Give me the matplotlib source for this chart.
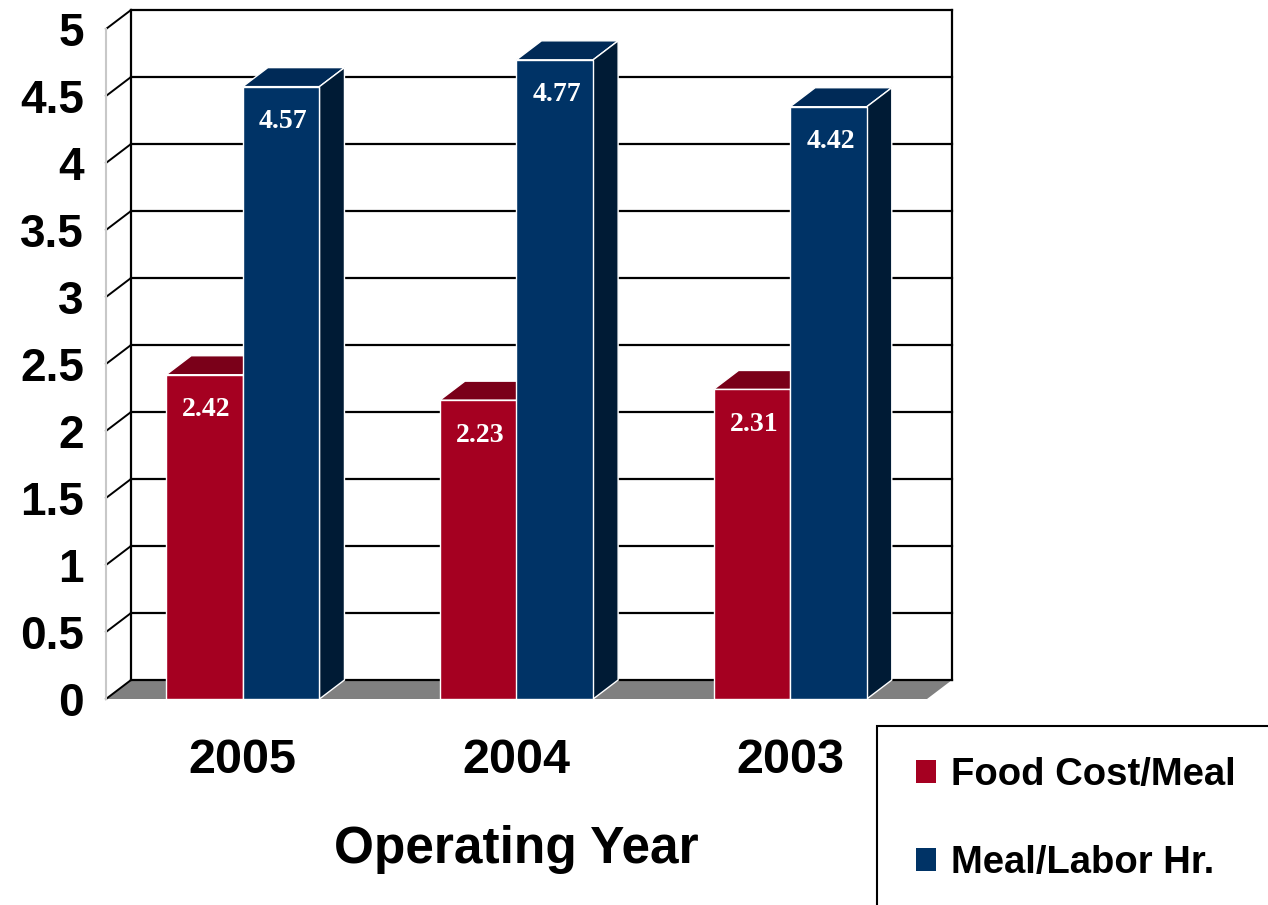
import matplotlib
matplotlib.use("Agg")
import matplotlib.pyplot as plt
from matplotlib.patches import Polygon, Rectangle, Patch

# Data
years = ["2005", "2004", "2003"]
series_names = ["Food Cost/Meal", "Meal/Labor Hr."]
food_cost = [2.42, 2.23, 2.31]
meals_per_hour = [4.57, 4.77, 4.42]
y_ticks = [0, 0.5, 1, 1.5, 2, 2.5, 3, 3.5, 4, 4.5, 5]
y_tick_labels = ["0", "0.5", "1", "1.5", "2", "2.5", "3", "3.5", "4", "4.5", "5"]

# Styling
front_colors = ["#A50021", "#003366"]
top_colors = ["#7A0019", "#002A57"]
side_colors = ["#5A0012", "#001B35"]
floor_color = "#808080"
sans = "Liberation Sans"
serif = "Liberation Serif"

W, H, DPI = 1268, 905, 100
fig = plt.figure(figsize=(W / DPI, H / DPI), dpi=DPI)
fig.patch.set_facecolor("white")

# Front plane of the 3D box, in pixels
left_px, right_px, base_px, top_px = 106, 927, 699, 29
ax = fig.add_axes([left_px / W, 1 - base_px / H,
                   (right_px - left_px) / W, (base_px - top_px) / H])
ax.set_xlim(0, 3)
ax.set_ylim(0, 5)
ax.patch.set_visible(False)
for s in ax.spines.values():
    s.set_visible(False)

# depth offset of the 3D box in data units
ddx = 25 / ((right_px - left_px) / 3)
ddy = 19 / ((base_px - top_px) / 5)

# floor
ax.add_patch(Polygon([(0, 0), (3, 0), (3 + ddx, ddy), (ddx, ddy)],
                     closed=True, facecolor=floor_color, edgecolor="none",
                     zorder=1, clip_on=False))

# back wall frame and gridlines
wall_kw = dict(color="black", lw=1.6, zorder=2, clip_on=False,
               solid_capstyle="projecting")
for v in y_ticks:
    ax.plot([ddx, 3 + ddx], [v + ddy, v + ddy], **wall_kw)
    ax.plot([0, ddx], [v, v + ddy], color="black", lw=1.4, zorder=2, clip_on=False)
ax.plot([ddx, ddx], [ddy, 5 + ddy], **wall_kw)
ax.plot([3 + ddx, 3 + ddx], [ddy, 5 + ddy], **wall_kw)
# front value axis
ax.plot([0, 0], [0, 5], color="#C8C8C8", lw=1.5, zorder=2, clip_on=False)

# bars
bar_w = 0.28
z = 3
for i in range(len(years)):
    for k, vals in enumerate([food_cost, meals_per_hour]):
        h = vals[i]
        x0 = i + 0.5 - bar_w + k * bar_w
        x1 = x0 + bar_w
        ax.bar(x0, h, width=bar_w, align="edge", color=front_colors[k],
               edgecolor="white", linewidth=1.0, zorder=z)
        ax.add_patch(Polygon([(x0, h), (x1, h), (x1 + ddx, h + ddy), (x0 + ddx, h + ddy)],
                             closed=True, facecolor=top_colors[k], edgecolor="white",
                             linewidth=1.0, zorder=z - 0.1, clip_on=False))
        ax.add_patch(Polygon([(x1, 0), (x1 + ddx, ddy), (x1 + ddx, h + ddy), (x1, h)],
                             closed=True, facecolor=side_colors[k], edgecolor="white",
                             linewidth=1.0, zorder=z - 0.1, clip_on=False))
        ax.annotate(f"{h:.2f}", xy=(x0 + bar_w / 2, h), xytext=(2, -35),
                    textcoords="offset pixels", ha="center", va="center",
                    color="white", fontsize=20, fontweight="bold",
                    family=serif, zorder=z + 0.5)
        z += 1

# axes text
ax.set_yticks(y_ticks)
ax.set_yticklabels(y_tick_labels)
ax.set_xticks([0.5, 1.5, 2.5])
ax.set_xticklabels(years)
ax.tick_params(axis="y", length=0, pad=16, labelsize=33)
ax.tick_params(axis="x", length=0, pad=28, labelsize=35)
for lab in ax.get_yticklabels() + ax.get_xticklabels():
    lab.set_fontfamily(sans)
    lab.set_fontweight("bold")
ax.set_xlabel("Operating Year", fontsize=37, fontweight="bold",
              family=sans, labelpad=30)

# legend box, running off the lower right edge
fig.add_artist(Rectangle((877 / W, -0.1), 0.5, (905 - 726) / H + 0.1,
                         transform=fig.transFigure, facecolor="white",
                         edgecolor="black", linewidth=1.5, zorder=5))
handles = [Patch(facecolor=c, edgecolor="none") for c in front_colors]
leg = fig.legend(handles, series_names, loc="upper left",
                 bbox_to_anchor=(916 / W, 1 - 757 / H), frameon=False,
                 borderpad=0, borderaxespad=0, handlelength=0.52,
                 handleheight=0.52, handletextpad=0.4, labelspacing=1.36,
                 prop={"family": sans, "weight": "bold", "size": 27.5})
leg.set_zorder(6)

fig.savefig("out.png", dpi=DPI, facecolor="white")
